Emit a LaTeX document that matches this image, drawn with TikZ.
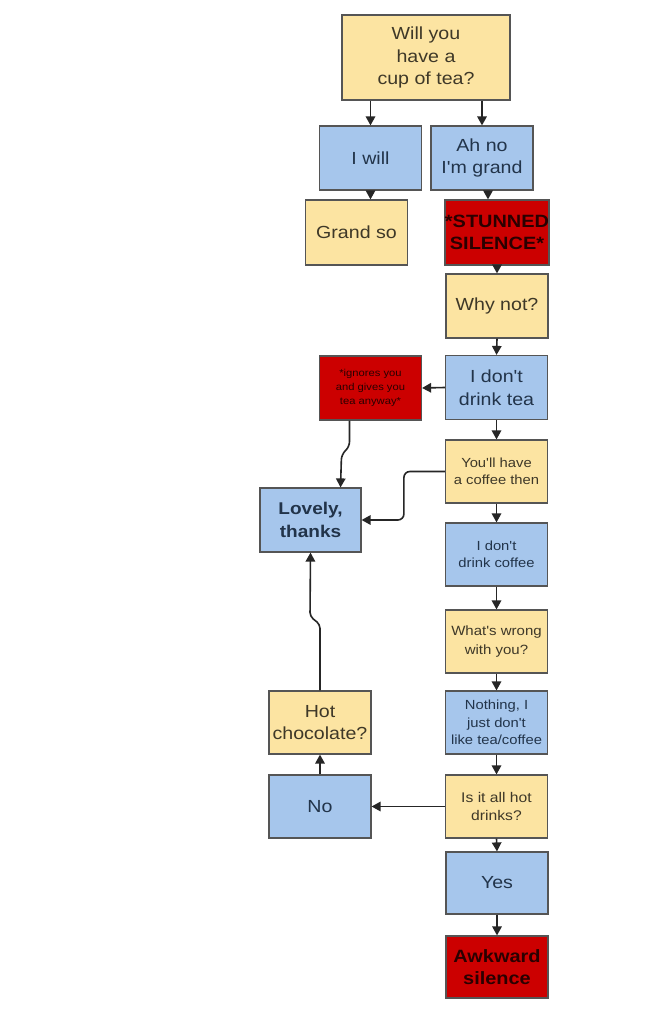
\documentclass[tikz,border=0pt]{standalone}
\usepackage{fontspec}
\setmainfont{Liberation Sans}[FakeStretch=1.12, Ligatures=TeXOff]
\usetikzlibrary{arrows.meta,calc}
\definecolor{yel}{HTML}{FCE4A2}
\definecolor{blu}{HTML}{A6C6EC}
\definecolor{rd}{HTML}{CC0000}
\definecolor{yeltxt}{HTML}{3E3828}
\definecolor{blutxt}{HTML}{22344A}
\definecolor{rdtxt}{HTML}{2A0000}
\definecolor{edge}{HTML}{555555}
\tikzset{
  box/.style={draw=edge, line width=1.2pt, minimum width=#1, align=center, inner sep=0pt},
  box/.default={102pt},
  ybox/.style={box, fill=yel, text=yeltxt},
  bbox/.style={box, fill=blu, text=blutxt},
  rbox/.style={box, fill=rd, text=rdtxt},
  big/.style={font=\fontsize{17.5}{22.5}\selectfont},
  bigb/.style={font=\fontsize{17.8}{22}\selectfont\bfseries},
  small/.style={font=\fontsize{13.2}{17.5}\selectfont},
  tiny/.style={font=\fontsize{10}{14}\selectfont},
  arr/.style={draw=black!85, line width=1.6pt, -{Triangle[length=9pt,width=9.5pt]}},
}
\begin{document}
\begin{tikzpicture}[x=1pt,y=-1pt]
\fill[white] (0,0) rectangle (650,1016);
\useasboundingbox (0,0) rectangle (650,1016);
% nodes
\node[ybox, minimum width=168pt, minimum height=85pt, big] (top) at (426,57.5) {Will you\\have a\\cup of tea?};
\node[bbox, minimum height=64pt, big] (iwill) at (370.5,158) {I will};
\node[bbox, minimum height=64pt, big] (ahno) at (482,158) {Ah no\\I'm grand};
\node[ybox, minimum height=65pt, big] (grand) at (356.5,232.5) {Grand so};
\node[rbox, minimum height=65pt, bigb] (stun) at (497,232.5) {*STUNNED\\SILENCE*};
\node[ybox, minimum height=64pt, big] (why) at (497,306) {Why not?};
\node[bbox, minimum height=64pt, big] (dt) at (496.5,387.5) {I don't\\drink tea};
\node[rbox, minimum height=64pt, tiny] (ign) at (370.5,388) {*ignores you\\and gives you\\tea anyway*};
\node[ybox, minimum height=63pt, small] (coffee) at (496.5,471.5) {You'll have\\a coffee then};
\node[bbox, minimum width=101pt, minimum height=64pt, font=\fontsize{17}{23}\selectfont\bfseries] (lovely) at (310.5,520) {Lovely,\\thanks};
\node[bbox, minimum height=63pt, small] (dc) at (496.5,554.5) {I don't\\drink coffee};
\node[ybox, minimum height=63pt, font=\fontsize{13.4}{19}\selectfont] (wrong) at (496.5,641.5) {What's wrong\\with you?};
\node[bbox, minimum height=63pt, small] (noth) at (496.5,722.5) {Nothing, I\\just don't\\like tea/coffee};
\node[ybox, minimum height=63pt, big] (hot) at (320,722.5) {Hot\\chocolate?};
\node[bbox, minimum height=63pt, big] (no) at (320,806.5) {No};
\node[ybox, minimum height=63pt, font=\fontsize{14}{18}\selectfont] (isit) at (496.5,806.5) {Is it all hot\\drinks?};
\node[bbox, minimum height=62pt, big] (yes) at (497,883) {Yes};
\node[rbox, minimum height=62pt, bigb] (awk) at (497,967) {Awkward\\silence};
% connectors
\draw[arr] (top.south -| iwill.north) -- (iwill.north);
\draw[arr] (top.south -| ahno.north) -- (ahno.north);
\draw[arr] (iwill.south) -- (iwill.south |- grand.north);
\draw[arr] ([xshift=6pt]ahno.south) -- ([xshift=-9pt]stun.north);
\draw[arr] (stun.south) -- (why.north);
\draw[arr] (why.south) -- (dt.north);
\draw[arr] (dt.west) -- (ign.east);
\draw[arr] (dt.south) -- (coffee.north);
\draw[arr, rounded corners=5pt] ([xshift=-21pt]ign.south) -- ++(0,26) -- ++(-8,8) -- ([xshift=30pt]lovely.north);
\draw[arr, rounded corners=6pt] (coffee.west) -- ++(-41,0) |- (lovely.east);
\draw[arr] (coffee.south) -- (dc.north);
\draw[arr] (dc.south) -- (wrong.north);
\draw[arr] (wrong.south) -- (noth.north);
\draw[arr] (noth.south) -- (isit.north);
\draw[arr] (isit.west) -- (no.east);
\draw[arr] (no.north) -- (hot.south);
\draw[arr, rounded corners=4pt] (hot.north) -- ++(0,-66) -- ++(-10,-8) -- (lovely.south);
\draw[arr] (isit.south) -- (yes.north);
\draw[arr] (yes.south) -- (awk.north);
\end{tikzpicture}
\end{document}
